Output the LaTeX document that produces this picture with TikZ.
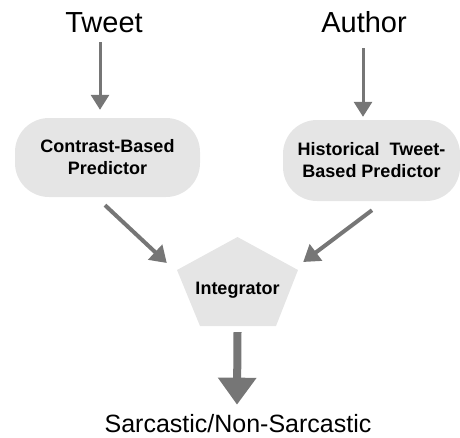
\documentclass[tikz,border=0pt]{standalone}
\usepackage{fontspec}
\setmainfont{Liberation Sans}
\usetikzlibrary{arrows.meta}
\definecolor{boxfill}{RGB}{229,229,229}
\definecolor{arrowgray}{RGB}{118,118,118}
\tikzset{
  lbl/.style={inner sep=0pt, anchor=base, font=\fontsize{29}{33}\selectfont},
  predbox/.style={fill=boxfill, rounded corners=34pt, inner sep=0pt,
    align=center, font=\bfseries\fontsize{18}{22}\selectfont},
  thinarrow/.style={draw=arrowgray, line width=3pt,
    -{Triangle[width=18pt,length=15pt]}},
  midarrow/.style={draw=arrowgray, line width=4pt,
    -{Triangle[width=20pt,length=16pt]}},
  bigarrow/.style={draw=arrowgray, line width=8pt,
    -{Triangle[width=37pt,length=27pt]}},
}
\begin{document}
\begin{tikzpicture}[x=1pt,y=-1pt]
\useasboundingbox (0,0) rectangle (460,437);
\node[lbl] (tweet) at (104,32) {Tweet};
\node[lbl] (author) at (364,32) {Author};
\node[predbox, minimum width=185pt, minimum height=79pt] (cbp) at (107.5,157.5)
  {Contrast-Based\\Predictor};
\node[predbox, minimum width=177pt, minimum height=81pt] (hbp) at (371.5,160.5)
  {Historical\ \ Tweet-\\Based Predictor};
\fill[boxfill] (237.5,237) -- (298,270) -- (276,326) -- (200,326) -- (177,270) -- cycle;
\node[inner sep=0pt, minimum width=121pt, minimum height=89pt] (int) at (237.5,281.5) {};
\node[font=\bfseries\fontsize{18}{22}\selectfont, inner sep=0pt, anchor=base]
  (inttext) at (237.5,294) {Integrator};
\node[lbl, font=\fontsize{25}{30}\selectfont] (sarc) at (238,432) {Sarcastic/Non-Sarcastic};
\draw[thinarrow] ([xshift=-4pt,yshift=-10pt]tweet.south) -- ([xshift=-7.5pt,yshift=8pt]cbp.north);
\draw[thinarrow] ([xshift=-1pt,yshift=-16pt]author.south) -- ([xshift=-8.5pt,yshift=3pt]hbp.north);
\draw[midarrow] ([xshift=-2.5pt,yshift=-8pt]cbp.south) -- ([xshift=-10pt,yshift=18.5pt]int.west);
\draw[midarrow] ([xshift=0.5pt,yshift=-9pt]hbp.south) -- ([xshift=5pt,yshift=19.5pt]int.east);
\draw[bigarrow] ([yshift=-6pt]int.south) -- ([xshift=-1pt,yshift=9pt]sarc.north);
\end{tikzpicture}
\end{document}
